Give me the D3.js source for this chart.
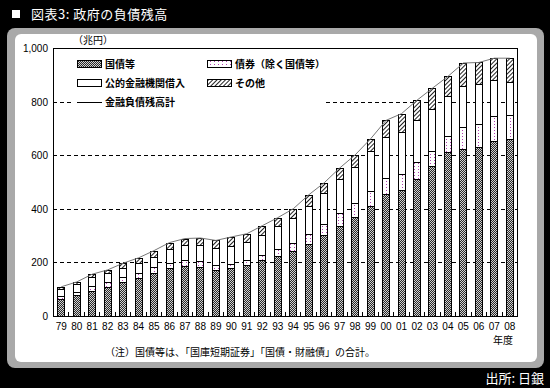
<!DOCTYPE html>
<html>
<head>
<meta charset="utf-8">
<script src="https://cdn.jsdelivr.net/npm/d3@7"></script>
<style>
  body { margin: 0; background: #000; }
  svg { display: block; }
  .jp { font-family: "Noto Sans CJK JP", sans-serif; }
  .num { font-family: "Liberation Sans", Arial, sans-serif; font-size: 10px; }
</style>
</head>
<body>
<div id="chart"></div>
<script>
// Chart data (兆円)
var years = ["79","80","81","82","83","84","85","86","87","88","89","90","91","92","93","94",
  "95","96","97","98","99","00","01","02","03","04","05","06","07","08"];
var kokusai = [65,80,95,109,126,140,159,180,186,184,172,179,191,209,224,242,
  269,302,335,369,411,456,471,512,561,611,624,631,653,662];
var saiken = [11,10,16,18,19,19,25,19,24,23,19,16,18,18,26,30,
  37,43,50,53,56,59,59,61,56,61,82,84,92,89];
var koteki = [23,28,35,34,35,40,38,51,55,59,62,65,68,75,85,93,
  104,115,127,135,148,153,156,158,157,150,154,150,134,124];
var sonota = [10,9,10,11,17,18,22,24,24,25,29,35,30,35,32,35,
  42,37,40,44,46,62,69,74,76,72,84,81,83,87];
var total = [109,127,156,172,197,217,244,274,289,291,282,295,307,337,367,400,
  452,497,552,601,661,730,755,805,850,894,944,946,962,962];
var yTicks = [0, 200, 400, 600, 800, 1000];

var keys = ["kokusai", "saiken", "koteki", "sonota"];
var names = ["国債等", "債券（除く国債等）", "公的金融機関借入", "その他"];

// Set up SVG
var svgWdt = 550;
var svgHgt = 388;
var svg = d3.select("#chart").append("svg")
    .attr("width", svgWdt)
    .attr("height", svgHgt);

// Fill patterns
var defs = svg.append("defs");

var chk = defs.append("pattern").attr("id", "pChk")
    .attr("width", 2).attr("height", 2).attr("patternUnits", "userSpaceOnUse");
chk.append("rect").attr("width", 2).attr("height", 2).attr("fill", "#d0d0d0");
chk.append("rect").attr("width", 1).attr("height", 1).attr("fill", "#2a2a2a");
chk.append("rect").attr("x", 1).attr("y", 1).attr("width", 1).attr("height", 1).attr("fill", "#2a2a2a");

var dot = defs.append("pattern").attr("id", "pDot")
    .attr("width", 4).attr("height", 3).attr("patternUnits", "userSpaceOnUse");
dot.append("rect").attr("width", 4).attr("height", 3).attr("fill", "#fff");
dot.append("rect").attr("x", 1).attr("y", 1).attr("width", 1).attr("height", 1).attr("fill", "#b040b0");

var hat = defs.append("pattern").attr("id", "pHat")
    .attr("width", 3).attr("height", 3).attr("patternUnits", "userSpaceOnUse")
    .attr("patternTransform", "rotate(45)");
hat.append("rect").attr("width", 3).attr("height", 3).attr("fill", "#fff");
hat.append("rect").attr("width", 1).attr("height", 3).attr("fill", "#222");

var fills = ["url(#pChk)", "url(#pDot)", "#fff", "url(#pHat)"];

// Panel background
svg.append("rect").attr("x", 7).attr("y", 28).attr("width", 537).attr("height", 340)
    .attr("rx", 8).attr("fill", "#a9a9a9");
svg.append("rect").attr("x", 15).attr("y", 34).attr("width", 522).attr("height", 328)
    .attr("rx", 6).attr("fill", "#fff");

// Title and source
svg.append("rect").attr("x", 12).attr("y", 10).attr("width", 8).attr("height", 8).attr("fill", "#fff");
svg.append("text").attr("class", "jp").attr("x", 31).attr("y", 19)
    .attr("fill", "#fff").attr("font-size", 13).attr("letter-spacing", 0.5)
    .text("図表3: 政府の負債残高");
svg.append("text").attr("class", "jp").attr("x", 544).attr("y", 383)
    .attr("fill", "#fff").attr("font-size", 13).attr("text-anchor", "end")
    .text("出所: 日銀");

// Plot area
var margins = { top: 48, left: 53 };
var chtWdt = 464;
var chtHgt = 268;
var chtGrp = svg.append("g")
    .attr("transform", `translate(${margins.left}, ${margins.top})`);

var xScale = d3.scaleBand().domain(years).range([0, chtWdt]).paddingInner(0.55).paddingOuter(0.275);
var yScale = d3.scaleLinear().domain([0, 1000]).range([chtHgt, 0]);

// Dashed grid lines
chtGrp.selectAll(".grid").data(yTicks.slice(1, 5))
    .enter()
    .append("line")
        .attr("x1", 0).attr("x2", chtWdt)
        .attr("y1", d => Math.round(yScale(d)) + 0.5)
        .attr("y2", d => Math.round(yScale(d)) + 0.5)
        .attr("stroke", "#000")
        .attr("stroke-dasharray", "4,3");

// Stacked bars
var rows = years.map((y, i) => ({
    year: y, kokusai: kokusai[i], saiken: saiken[i], koteki: koteki[i], sonota: sonota[i]
}));
var series = d3.stack().keys(keys)(rows);

series.forEach((s, k) => {
    chtGrp.append("g").selectAll("rect").data(s)
        .enter()
        .append("rect")
            .attr("x", d => Math.round(xScale(d.data.year)) + 0.5)
            .attr("y", d => Math.round(yScale(d[1])) + 0.5)
            .attr("width", Math.round(xScale.bandwidth()))
            .attr("height", d => Math.round(yScale(d[0])) - Math.round(yScale(d[1])))
            .attr("fill", fills[k])
            .attr("stroke", "#000")
            .attr("stroke-width", 1);
});

// Total line
var line = d3.line()
    .x((d, i) => xScale(years[i]) + xScale.bandwidth() / 2 + 0.5)
    .y(d => yScale(d));
chtGrp.append("path").datum(total)
    .attr("d", line)
    .attr("fill", "none")
    .attr("stroke", "#777")
    .attr("stroke-width", 1);

// Legend (white box hides grid line)
var lgd = chtGrp.append("g");
lgd.append("rect").attr("x", 18).attr("y", 6).attr("width", 254).attr("height", 54).attr("fill", "#fff");
var lgdPos = [[24, 16], [154, 16], [24, 35], [154, 35]];
keys.forEach((k, i) => {
    lgd.append("rect")
        .attr("x", lgdPos[i][0] + 0.5).attr("y", lgdPos[i][1] - 3.5)
        .attr("width", 24).attr("height", 7)
        .attr("fill", fills[i]).attr("stroke", "#000");
    lgd.append("text").attr("class", "jp")
        .attr("x", lgdPos[i][0] + 28).attr("y", lgdPos[i][1] + 4)
        .attr("font-size", 10).attr("font-weight", "bold")
        .text(names[i]);
});
lgd.append("line").attr("x1", 24).attr("x2", 49).attr("y1", 54.5).attr("y2", 54.5)
    .attr("stroke", "#000");
lgd.append("text").attr("class", "jp")
    .attr("x", 52).attr("y", 58)
    .attr("font-size", 10).attr("font-weight", "bold")
    .text("金融負債残高計");

// Frame
chtGrp.append("rect").attr("x", 0.5).attr("y", 0.5)
    .attr("width", chtWdt).attr("height", chtHgt)
    .attr("fill", "none").attr("stroke", "#000");

// Y axis labels
chtGrp.selectAll(".ylbl").data(yTicks)
    .enter()
    .append("text")
        .attr("class", "num")
        .attr("x", -5)
        .attr("y", d => yScale(d) + 4)
        .attr("text-anchor", "end")
        .text(d => d3.format(",")(d));

// X axis with ticks between bars
var xAxis = d3.axisBottom(xScale).tickSize(0).tickPadding(7);
var xAx = chtGrp.append("g")
    .attr("transform", `translate(0.5, ${chtHgt})`)
    .call(xAxis);
xAx.select(".domain").remove();
xAx.selectAll("text").attr("class", "num").attr("font-size", null).attr("font-family", null).attr("fill", "#000");
chtGrp.selectAll(".xtk").data(years.slice(1))
    .enter()
    .append("line")
        .attr("x1", d => Math.round(xScale(d) - xScale.step() * xScale.paddingInner() / 2) + 0.5)
        .attr("x2", d => Math.round(xScale(d) - xScale.step() * xScale.paddingInner() / 2) + 0.5)
        .attr("y1", chtHgt - 4).attr("y2", chtHgt)
        .attr("stroke", "#000");

// Units, axis name and note
svg.append("text").attr("class", "jp").attr("x", 73).attr("y", 44)
    .attr("font-size", 10).text("（兆円）");
svg.append("text").attr("class", "jp").attr("x", 513).attr("y", 344)
    .attr("font-size", 10).attr("text-anchor", "end").text("年度");
svg.append("text").attr("class", "jp").attr("x", 105).attr("y", 356)
    .attr("font-size", 10).text("（注）国債等は、「国庫短期証券」「国債・財融債」の合計。");
</script>
</body>
</html>
